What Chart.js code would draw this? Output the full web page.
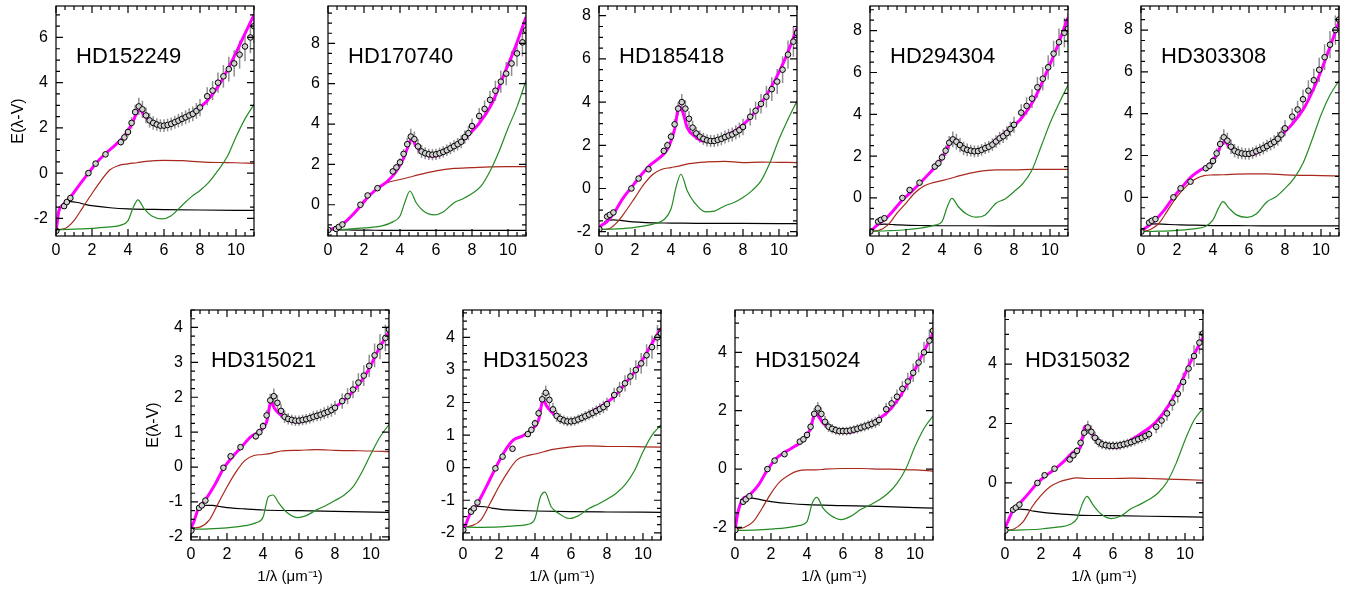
<!DOCTYPE html>
<html>
<head>
<meta charset="utf-8">
<script src="https://cdn.jsdelivr.net/npm/chart.js@4.4.0/dist/chart.umd.min.js"></script>
<style>
  body { margin: 0; background: #fff; width: 1351px; height: 590px; position: relative; overflow: hidden; }
  canvas { position: absolute; }
</style>
</head>
<body>
<script>
// shared wavenumber grids, 1/lambda in um^-1
const xFit = [0, 0.05, 0.15, 0.4, 0.8, 1.3, 1.8, 2.3, 2.8, 3.3, 3.8, 4.2, 4.45, 4.65, 4.9, 5.3, 5.8, 6.3, 7.0, 7.7, 8.4, 9.1, 9.8, 10.4, 11.0];
const xRed = [0, 0.5, 1, 1.5, 2, 2.5, 3, 3.5, 4, 4.5, 5, 6, 7, 8, 9, 10, 11];
const xGreen = [0, 1, 2, 3, 3.6, 4.0, 4.3, 4.55, 4.9, 5.3, 5.9, 6.4, 7.0, 7.5, 8.0, 8.5, 9.0, 9.5, 10.0, 10.5, 11.0];
const xBlack = [0.3, 0.5, 0.8, 1.2, 1.6, 2.2, 3, 4, 6, 8, 11];
const xObs = [0.02, 0.45, 0.6, 0.8, 1.8, 2.2, 2.75, 3.6, 3.8, 4.0, 4.2, 4.4, 4.6, 4.8, 5.0, 5.2, 5.4, 5.6, 5.8, 6.0, 6.2, 6.4, 6.6, 6.8, 7.0, 7.2, 7.4, 7.6, 7.8, 8.0, 8.4, 8.7, 9.0, 9.3, 9.6, 9.9, 10.2, 10.5, 10.8, 11.0];
const xTicks = [0, 2, 4, 6, 8, 10];

// error bar half-lengths (top row / bottom row)
const errTop = [0, 0, 0, 0, 0, 0, 0, 0.15, 0.18, 0.2, 0.25, 0.32, 0.38, 0.38, 0.35, 0.32, 0.3, 0.28, 0.28, 0.28, 0.28, 0.28, 0.29, 0.3, 0.3, 0.31, 0.32, 0.33, 0.35, 0.38, 0.4, 0.42, 0.45, 0.5, 0.55, 0.58, 0.62, 0.65, 0.7, 0.75];
const errBottom = [0, 0, 0, 0, 0, 0, 0, 0.09, 0.1, 0.12, 0.15, 0.19, 0.22, 0.22, 0.2, 0.18, 0.16, 0.15, 0.15, 0.15, 0.15, 0.15, 0.15, 0.16, 0.16, 0.17, 0.17, 0.18, 0.19, 0.2, 0.22, 0.23, 0.25, 0.27, 0.3, 0.32, 0.34, 0.36, 0.38, 0.42];

// HD152249
const hd152249Fit = [-2.55, -2.3, -1.7, -1.4, -1.06, -0.52, 0.0, 0.5, 0.9, 1.25, 1.65, 2.15, 2.6, 2.8, 2.55, 2.25, 2.07, 2.12, 2.38, 2.72, 3.2, 3.95, 5.0, 6.0, 7.0];
const hd152249Red = [-2.5, -2.45, -2.1, -1.5, -0.9, -0.33, 0.15, 0.34, 0.41, 0.46, 0.52, 0.56, 0.55, 0.5, 0.47, 0.46, 0.43];
const hd152249Green = [-2.5, -2.48, -2.44, -2.38, -2.3, -2.1, -1.5, -1.18, -1.58, -1.88, -2.02, -1.88, -1.43, -1.06, -0.77, -0.4, 0.12, 0.71, 1.6, 2.4, 3.04];
const hd152249Black = [-1.4, -1.3, -1.26, -1.3, -1.38, -1.46, -1.53, -1.58, -1.61, -1.63, -1.65];
const hd152249Obs = [-2.55, -1.46, -1.28, -1.1, 0.0, 0.42, 0.83, 1.37, 1.58, 1.82, 2.22, 2.7, 2.95, 2.82, 2.55, 2.33, 2.22, 2.15, 2.1, 2.1, 2.13, 2.18, 2.25, 2.32, 2.4, 2.47, 2.55, 2.62, 2.75, 2.9, 3.4, 3.65, 4.0, 4.28, 4.6, 4.85, 5.24, 5.6, 6.0, 6.5];
const hd152249Ticks = [-2, 0, 2, 4, 6];

// HD170740
const hd170740Fit = [-1.25, -1.24, -1.22, -1.15, -0.97, -0.56, -0.07, 0.46, 0.84, 1.16, 1.66, 2.31, 2.89, 3.3, 2.89, 2.56, 2.39, 2.52, 2.89, 3.38, 4.03, 5.0, 6.5, 7.8, 9.3];
const hd170740Red = [-1.25, -1.2, -0.85, -0.4, 0.22, 0.65, 0.98, 1.15, 1.25, 1.36, 1.48, 1.68, 1.8, 1.84, 1.88, 1.89, 1.89];
const hd170740Green = [-1.25, -1.22, -1.15, -1.05, -0.85, -0.56, 0.2, 0.68, 0.1, -0.31, -0.5, -0.36, 0.1, 0.3, 0.56, 0.92, 1.66, 2.64, 3.79, 4.85, 6.16];
const hd170740Black = [-1.26, -1.25, -1.25, -1.25, -1.26, -1.26, -1.27, -1.27, -1.27, -1.27, -1.27];
const hd170740Obs = [-1.25, -1.2, -1.1, -0.98, 0.0, 0.46, 0.82, 1.65, 1.85, 2.1, 2.52, 3.0, 3.38, 3.25, 2.89, 2.64, 2.55, 2.5, 2.48, 2.5, 2.55, 2.62, 2.7, 2.8, 2.9, 3.0, 3.12, 3.35, 3.55, 3.9, 4.4, 4.75, 5.2, 5.65, 6.1, 6.5, 7.0, 7.5, 8.05, 8.65];
const hd170740Ticks = [0, 2, 4, 6, 8];

// HD185418
const hd185418Fit = [-1.88, -1.8, -1.7, -1.57, -1.18, -0.49, 0.05, 0.58, 1.05, 1.38, 1.82, 2.74, 3.8, 3.55, 2.82, 2.43, 2.2, 2.2, 2.43, 2.74, 3.28, 4.05, 5.05, 6.12, 7.43];
const hd185418Red = [-1.9, -1.88, -1.57, -1.03, -0.42, 0.2, 0.66, 0.89, 0.97, 1.05, 1.15, 1.23, 1.26, 1.2, 1.22, 1.21, 1.2];
const hd185418Green = [-1.9, -1.87, -1.8, -1.65, -1.45, -0.95, 0.12, 0.66, -0.1, -0.65, -1.08, -1.05, -0.8, -0.65, -0.42, -0.1, 0.35, 1.2, 2.28, 3.2, 4.05];
const hd185418Black = [-1.55, -1.47, -1.45, -1.48, -1.52, -1.56, -1.59, -1.6, -1.62, -1.62, -1.63];
const hd185418Obs = [-1.88, -1.3, -1.22, -1.11, 0.0, 0.46, 0.89, 1.74, 2.0, 2.4, 2.97, 3.7, 4.0, 3.7, 3.23, 2.82, 2.55, 2.4, 2.3, 2.23, 2.2, 2.2, 2.25, 2.3, 2.38, 2.45, 2.5, 2.6, 2.7, 2.85, 3.32, 3.6, 3.92, 4.25, 4.6, 4.95, 5.5, 6.2, 6.8, 7.2];
const hd185418Ticks = [-2, 0, 2, 4, 6, 8];

// HD294304
const hd294304Fit = [-1.6, -1.57, -1.5, -1.29, -1.05, -0.6, -0.1, 0.3, 0.73, 1.18, 1.66, 2.21, 2.69, 2.85, 2.64, 2.37, 2.21, 2.29, 2.77, 3.25, 3.8, 4.68, 5.99, 7.23, 8.63];
const hd294304Red = [-1.6, -1.55, -1.29, -0.73, -0.25, 0.25, 0.57, 0.73, 0.83, 0.94, 1.07, 1.26, 1.34, 1.34, 1.37, 1.37, 1.37];
const hd294304Green = [-1.6, -1.57, -1.52, -1.42, -1.3, -1.13, -0.41, -0.02, -0.41, -0.73, -0.92, -0.81, -0.25, -0.05, 0.3, 0.7, 1.34, 2.45, 3.57, 4.52, 5.4];
const hd294304Black = [-1.4, -1.28, -1.25, -1.27, -1.29, -1.31, -1.32, -1.33, -1.33, -1.34, -1.34];
const hd294304Obs = [-1.6, -1.13, -1.05, -0.97, 0.0, 0.38, 0.73, 1.5, 1.66, 1.94, 2.26, 2.64, 2.8, 2.69, 2.53, 2.37, 2.3, 2.26, 2.23, 2.24, 2.3, 2.38, 2.45, 2.55, 2.7, 2.85, 2.95, 3.1, 3.3, 3.5, 4.08, 4.4, 4.75, 5.29, 5.7, 6.25, 6.9, 7.45, 7.9, 8.1];
const hd294304Ticks = [0, 2, 4, 6, 8];

// HD303308
const hd303308Fit = [-1.64, -1.6, -1.52, -1.37, -1.08, -0.6, 0.0, 0.51, 0.99, 1.31, 1.55, 2.02, 2.5, 2.66, 2.42, 2.18, 2.02, 2.07, 2.42, 2.9, 3.5, 4.33, 5.61, 6.96, 8.4];
const hd303308Red = [-1.64, -1.55, -1.24, -0.6, 0.03, 0.51, 0.86, 1.04, 1.07, 1.08, 1.1, 1.12, 1.12, 1.07, 1.05, 1.04, 1.02];
const hd303308Green = [-1.64, -1.62, -1.58, -1.5, -1.38, -1.08, -0.53, -0.21, -0.53, -0.84, -0.96, -0.8, -0.21, 0.03, 0.43, 0.91, 1.63, 2.74, 3.94, 4.89, 5.58];
const hd303308Black = [-1.4, -1.3, -1.27, -1.28, -1.3, -1.32, -1.33, -1.35, -1.36, -1.37, -1.37];
const hd303308Obs = [-1.64, -1.21, -1.12, -1.04, 0.0, 0.43, 0.75, 1.39, 1.51, 1.74, 2.1, 2.55, 2.87, 2.71, 2.42, 2.23, 2.15, 2.1, 2.08, 2.08, 2.12, 2.2, 2.27, 2.35, 2.45, 2.55, 2.65, 2.8, 3.0, 3.3, 3.86, 4.2, 4.69, 5.1, 5.6, 6.1, 6.7, 7.3, 8.0, 8.5];
const hd303308Ticks = [0, 2, 4, 6, 8];

// HD315021
const hd315021Fit = [-1.82, -1.7, -1.58, -1.2, -0.94, -0.53, -0.05, 0.29, 0.57, 0.86, 1.03, 1.29, 1.87, 1.67, 1.53, 1.39, 1.29, 1.32, 1.48, 1.63, 1.87, 2.22, 2.73, 3.35, 3.88];
const hd315021Red = [-1.75, -1.72, -1.53, -1.05, -0.57, -0.14, 0.19, 0.33, 0.36, 0.4, 0.46, 0.48, 0.5, 0.48, 0.47, 0.46, 0.44];
const hd315021Green = [-1.78, -1.77, -1.74, -1.68, -1.6, -1.44, -0.85, -0.8, -1.05, -1.29, -1.45, -1.39, -1.22, -1.1, -0.96, -0.81, -0.57, -0.14, 0.38, 0.86, 1.22];
const hd315021Black = [-1.2, -1.13, -1.1, -1.1, -1.13, -1.17, -1.2, -1.23, -1.25, -1.27, -1.3];
const hd315021Obs = [-1.82, -1.17, -1.1, -0.96, -0.02, 0.31, 0.57, 0.88, 1.0, 1.17, 1.48, 1.91, 2.03, 1.84, 1.61, 1.44, 1.38, 1.35, 1.33, 1.33, 1.35, 1.37, 1.4, 1.44, 1.47, 1.5, 1.54, 1.58, 1.63, 1.7, 1.89, 2.03, 2.22, 2.42, 2.62, 2.9, 3.2, 3.45, 3.7, 3.94];
const hd315021Ticks = [-2, -1, 0, 1, 2, 3, 4];

// HD315023
const hd315023Fit = [-1.91, -1.85, -1.75, -1.4, -1.1, -0.58, -0.02, 0.49, 0.85, 0.97, 1.16, 1.46, 2.08, 1.89, 1.72, 1.55, 1.4, 1.44, 1.67, 1.89, 2.18, 2.64, 3.15, 3.72, 4.28];
const hd315023Red = [-1.82, -1.78, -1.6, -1.1, -0.58, -0.12, 0.24, 0.36, 0.42, 0.49, 0.56, 0.64, 0.67, 0.65, 0.65, 0.64, 0.63];
const hd315023Green = [-1.82, -1.83, -1.82, -1.78, -1.74, -1.56, -0.9, -0.75, -1.2, -1.4, -1.56, -1.48, -1.25, -1.12, -0.97, -0.79, -0.53, -0.12, 0.49, 1.0, 1.31];
const hd315023Black = [-1.3, -1.22, -1.19, -1.2, -1.24, -1.29, -1.31, -1.33, -1.35, -1.36, -1.37];
const hd315023Obs = [-1.91, -1.35, -1.25, -1.07, -0.02, 0.34, 0.58, 1.03, 1.16, 1.36, 1.67, 2.1, 2.3, 2.08, 1.79, 1.59, 1.5, 1.45, 1.42, 1.42, 1.44, 1.48, 1.53, 1.58, 1.63, 1.68, 1.74, 1.8, 1.86, 1.95, 2.23, 2.4, 2.59, 2.8, 3.0, 3.2, 3.45, 3.7, 4.0, 4.12];
const hd315023Ticks = [-2, -1, 0, 1, 2, 3, 4];

// HD315024
const hd315024Fit = [-2.09, -1.9, -1.52, -1.06, -0.89, -0.55, -0.03, 0.37, 0.59, 0.77, 0.99, 1.39, 1.93, 1.79, 1.57, 1.39, 1.25, 1.25, 1.39, 1.62, 1.91, 2.42, 3.17, 3.91, 4.65];
const hd315024Red = [-2.05, -2.0, -1.81, -1.35, -0.83, -0.43, -0.2, -0.06, -0.03, -0.03, 0.0, 0.02, 0.02, 0.0, -0.01, -0.03, -0.07];
const hd315024Green = [-2.1, -2.09, -2.06, -2.0, -1.93, -1.8, -1.15, -0.97, -1.35, -1.58, -1.73, -1.63, -1.38, -1.23, -1.06, -0.83, -0.49, 0.02, 0.77, 1.39, 1.82];
const hd315024Black = [-1.05, -1.0, -0.99, -1.02, -1.07, -1.13, -1.18, -1.22, -1.25, -1.28, -1.34];
const hd315024Obs = [-2.09, -1.12, -1.04, -0.93, 0.0, 0.29, 0.51, 0.94, 1.02, 1.17, 1.45, 1.89, 2.08, 1.89, 1.62, 1.45, 1.38, 1.33, 1.3, 1.3, 1.3, 1.32, 1.35, 1.38, 1.42, 1.46, 1.5, 1.55, 1.6, 1.68, 2.05, 2.25, 2.48, 2.75, 3.0, 3.3, 3.65, 4.0, 4.4, 4.74];
const hd315024Ticks = [-2, 0, 2, 4];

// HD315032
const hd315032Fit = [-1.6, -1.45, -1.31, -0.98, -0.7, -0.36, 0.0, 0.26, 0.48, 0.74, 1.04, 1.21, 1.91, 1.89, 1.61, 1.38, 1.21, 1.21, 1.44, 1.72, 2.06, 2.62, 3.4, 4.19, 4.9];
const hd315032Red = [-1.6, -1.55, -1.31, -0.81, -0.42, -0.13, 0.03, 0.12, 0.17, 0.15, 0.15, 0.15, 0.16, 0.15, 0.13, 0.11, 0.09];
const hd315032Green = [-1.6, -1.58, -1.55, -1.48, -1.4, -1.2, -0.7, -0.45, -0.75, -1.03, -1.2, -1.12, -0.87, -0.72, -0.56, -0.34, 0.03, 0.65, 1.44, 2.11, 2.5];
const hd315032Black = [-0.97, -0.9, -0.88, -0.9, -0.95, -1.0, -1.04, -1.08, -1.1, -1.12, -1.15];
const hd315032Obs = [-1.6, -0.9, -0.83, -0.73, 0.0, 0.26, 0.48, 0.79, 0.93, 1.08, 1.35, 1.69, 1.87, 1.72, 1.52, 1.38, 1.3, 1.27, 1.25, 1.25, 1.25, 1.27, 1.3, 1.33, 1.37, 1.42, 1.47, 1.52, 1.58, 1.64, 1.89, 2.1, 2.34, 2.7, 3.0, 3.4, 3.85, 4.27, 4.72, 5.03];
const hd315032Ticks = [0, 2, 4];

const FONT = "'Liberation Sans', Arial, sans-serif";
const RED = '#a8281e';
const GREEN = '#238b23';
const BOX_W = 198, BOX_H = 230, PAD_L = 48, PAD_T = 6, PAD_R = 10;

const panels = [
  { name: 'HD152249', fit: hd152249Fit, red: hd152249Red, green: hd152249Green, black: hd152249Black, obs: hd152249Obs, err: errTop, ticks: hd152249Ticks, yMin: -2.78, yMax: 7.39, left: 56, top: 6, yTitle: true, xTitle: false },
  { name: 'HD170740', fit: hd170740Fit, red: hd170740Red, green: hd170740Green, black: hd170740Black, obs: hd170740Obs, err: errTop, ticks: hd170740Ticks, yMin: -1.55, yMax: 9.85, left: 328, top: 6, yTitle: false, xTitle: false },
  { name: 'HD185418', fit: hd185418Fit, red: hd185418Red, green: hd185418Green, black: hd185418Black, obs: hd185418Obs, err: errTop, ticks: hd185418Ticks, yMin: -2.2, yMax: 8.45, left: 599, top: 6, yTitle: false, xTitle: false },
  { name: 'HD294304', fit: hd294304Fit, red: hd294304Red, green: hd294304Green, black: hd294304Black, obs: hd294304Obs, err: errTop, ticks: hd294304Ticks, yMin: -1.82, yMax: 9.18, left: 870, top: 6, yTitle: false, xTitle: false },
  { name: 'HD303308', fit: hd303308Fit, red: hd303308Red, green: hd303308Green, black: hd303308Black, obs: hd303308Obs, err: errTop, ticks: hd303308Ticks, yMin: -1.85, yMax: 9.15, left: 1141, top: 6, yTitle: false, xTitle: false },
  { name: 'HD315021', fit: hd315021Fit, red: hd315021Red, green: hd315021Green, black: hd315021Black, obs: hd315021Obs, err: errBottom, ticks: hd315021Ticks, yMin: -2.09, yMax: 4.5, left: 191, top: 310, yTitle: true, xTitle: true },
  { name: 'HD315023', fit: hd315023Fit, red: hd315023Red, green: hd315023Green, black: hd315023Black, obs: hd315023Obs, err: errBottom, ticks: hd315023Ticks, yMin: -2.22, yMax: 4.84, left: 463, top: 310, yTitle: false, xTitle: true },
  { name: 'HD315024', fit: hd315024Fit, red: hd315024Red, green: hd315024Green, black: hd315024Black, obs: hd315024Obs, err: errBottom, ticks: hd315024Ticks, yMin: -2.43, yMax: 5.45, left: 735, top: 310, yTitle: false, xTitle: true },
  { name: 'HD315032', fit: hd315032Fit, red: hd315032Red, green: hd315032Green, black: hd315032Black, obs: hd315032Obs, err: errBottom, ticks: hd315032Ticks, yMin: -1.92, yMax: 5.82, left: 1005, top: 310, yTitle: false, xTitle: true }
];

function pts(xs, ys) {
  return xs.map((x, i) => ({ x: x, y: ys[i] }));
}

// IDL-style box with inward ticks on all four sides, error bars and star name
function idlPlugin(p) {
  return {
    id: 'idl',
    beforeDatasetsDraw(chart) {
      const { ctx, chartArea: a, scales: { x, y } } = chart;
      ctx.save();
      ctx.beginPath();
      ctx.rect(a.left, a.top, a.right - a.left, a.bottom - a.top);
      ctx.clip();
      ctx.strokeStyle = '#8f8f8f';
      ctx.lineWidth = 1.5;
      p.obs.forEach((v, i) => {
        const e = p.err[i];
        if (!e) return;
        const px = x.getPixelForValue(xObs[i]);
        ctx.beginPath();
        ctx.moveTo(px, y.getPixelForValue(v - e));
        ctx.lineTo(px, y.getPixelForValue(v + e));
        ctx.stroke();
      });
      ctx.restore();
    },
    afterDatasetsDraw(chart) {
      const { ctx, chartArea: a, scales: { x, y } } = chart;
      ctx.save();
      ctx.strokeStyle = '#000';
      ctx.lineWidth = 1.2;
      ctx.strokeRect(a.left, a.top, a.right - a.left, a.bottom - a.top);

      const tick = (px, len, horiz) => {
        ctx.beginPath();
        if (horiz) {
          ctx.moveTo(px, a.bottom); ctx.lineTo(px, a.bottom - len);
          ctx.moveTo(px, a.top); ctx.lineTo(px, a.top + len);
        } else {
          ctx.moveTo(a.left, px); ctx.lineTo(a.left + len, px);
          ctx.moveTo(a.right, px); ctx.lineTo(a.right - len, px);
        }
        ctx.stroke();
      };
      // x ticks
      const xs = xTicks[1] - xTicks[0];
      for (let v = 0; v <= 11.001; v += xs / 4) {
        const major = Math.abs(v / xs - Math.round(v / xs)) < 1e-6;
        tick(x.getPixelForValue(v), major ? 7 : 4, true);
      }
      // y ticks
      const ys = p.ticks[1] - p.ticks[0];
      const y0 = Math.ceil(p.yMin / (ys / 4)) * (ys / 4);
      for (let v = y0; v <= p.yMax + 1e-6; v += ys / 4) {
        const major = Math.abs(v / ys - Math.round(v / ys)) < 1e-6;
        tick(y.getPixelForValue(v), major ? 7 : 4, false);
      }

      ctx.fillStyle = '#000';
      ctx.font = '22px ' + FONT;
      ctx.textBaseline = 'middle';
      ctx.textAlign = 'left';
      ctx.fillText(p.name, a.left + 20, a.top + 51);
      ctx.restore();
    }
  };
}

function makePanel(p) {
  const xAxisH = p.xTitle ? 52 : 30;
  const cv = document.createElement('canvas');
  cv.width = PAD_L + BOX_W + PAD_R;
  cv.height = PAD_T + BOX_H + xAxisH;
  cv.style.left = (p.left - PAD_L) + 'px';
  cv.style.top = (p.top - PAD_T) + 'px';
  document.body.appendChild(cv);

  const thin = (data, color, order) => ({
    data: data, borderColor: color, borderWidth: 1.2, pointRadius: 0,
    cubicInterpolationMode: 'monotone', fill: false, order: order
  });

  new Chart(cv, {
    type: 'line',
    data: {
      datasets: [
        thin(pts(xBlack, p.black), '#000', 5),
        thin(pts(xRed, p.red), RED, 4),
        thin(pts(xGreen, p.green), GREEN, 3),
        {
          data: pts(xFit, p.fit), borderColor: '#ff00ff', borderWidth: 3, pointRadius: 0,
          cubicInterpolationMode: 'monotone', fill: false, order: 2
        },
        {
          data: pts(xObs, p.obs), showLine: false, pointRadius: 2.8,
          pointBackgroundColor: '#d2d2d2', pointBorderColor: '#000', pointBorderWidth: 1, order: 1
        }
      ]
    },
    options: {
      responsive: false,
      animation: false,
      devicePixelRatio: 1,
      events: [],
      layout: { padding: { left: 0, top: PAD_T, right: PAD_R, bottom: 0 } },
      plugins: { legend: { display: false }, tooltip: { enabled: false } },
      scales: {
        x: {
          type: 'linear', min: 0, max: 11,
          afterBuildTicks: (s) => { s.ticks = xTicks.map(v => ({ value: v })); },
          afterFit: (s) => { s.height = xAxisH; s.paddingLeft = 0; s.paddingRight = 0; },
          grid: { display: false, drawTicks: false },
          border: { display: false },
          ticks: { font: { family: FONT, size: 16 }, color: '#000', padding: 5, maxRotation: 0, autoSkip: false },
          title: {
            display: p.xTitle, text: '1/λ (μm⁻¹)', color: '#000',
            font: { family: FONT, size: 15 }, padding: { top: 0, bottom: 6 }
          }
        },
        y: {
          type: 'linear', min: p.yMin, max: p.yMax,
          afterBuildTicks: (s) => { s.ticks = p.ticks.map(v => ({ value: v })); },
          afterFit: (s) => { s.width = PAD_L; s.paddingTop = 0; s.paddingBottom = 0; },
          grid: { display: false, drawTicks: false },
          border: { display: false },
          ticks: { font: { family: FONT, size: 16 }, color: '#000', padding: 8, autoSkip: false },
          title: {
            display: p.yTitle, text: 'E(λ-V)', color: '#000',
            font: { family: FONT, size: 16 }, padding: { top: 1, bottom: 0 }
          }
        }
      }
    },
    plugins: [idlPlugin(p)]
  });
}

panels.forEach(makePanel);
</script>
</body>
</html>
